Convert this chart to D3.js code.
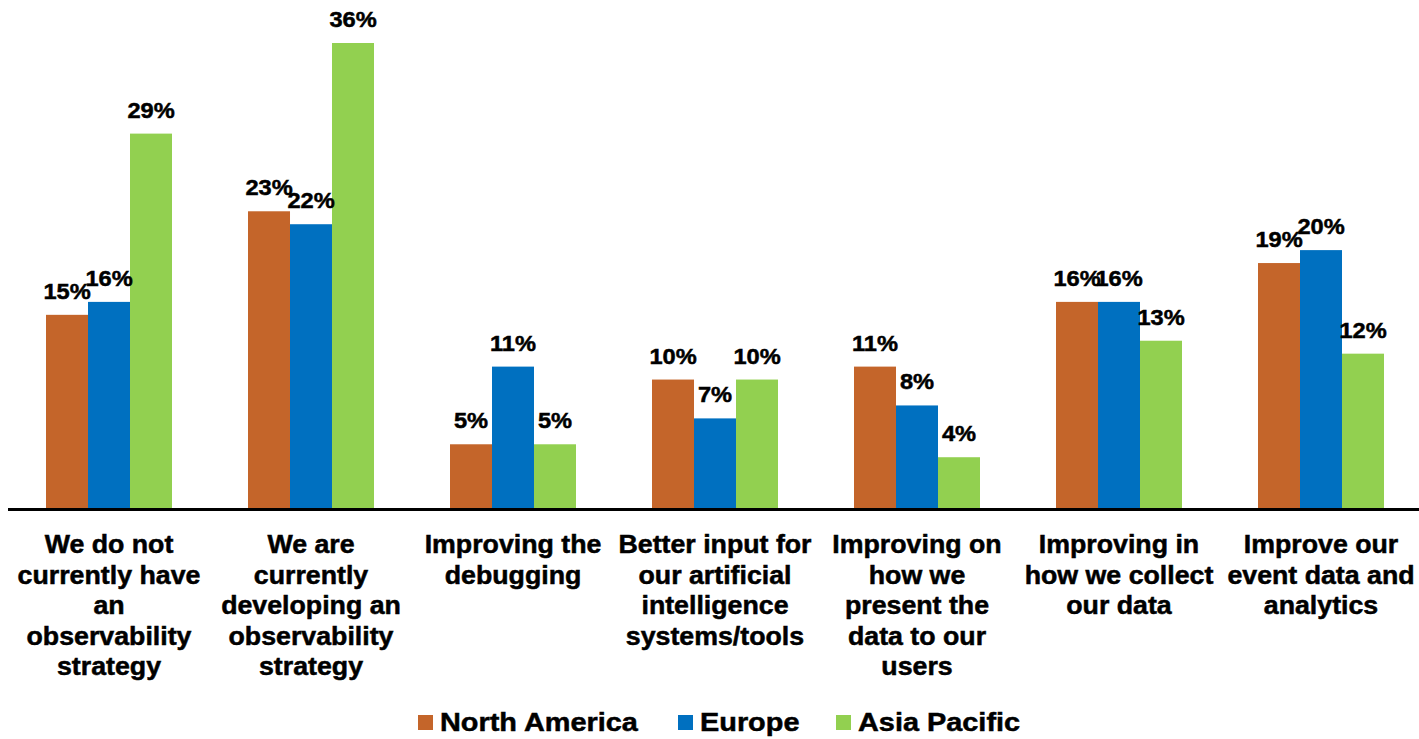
<!DOCTYPE html>
<html>
<head>
<meta charset="utf-8">
<script src="https://cdn.jsdelivr.net/npm/d3@7"></script>
<style>
html,body{margin:0;padding:0;background:#fff;}
svg{display:block;}
text{font-family:"Liberation Sans",Arial,sans-serif;font-weight:bold;fill:#000;stroke:#000;stroke-width:0.5px;}
</style>
</head>
<body>
<svg id="chart" width="1419" height="739"></svg>
<script>
const categories = [
  "We do not|currently have|an|observability|strategy",
  "We are|currently|developing an|observability|strategy",
  "Improving the|debugging",
  "Better input for|our artificial|intelligence|systems/tools",
  "Improving on|how we|present the|data to our|users",
  "Improving in|how we collect|our data",
  "Improve our|event data and|analytics"
];
const seriesNames = ["North America", "Europe", "Asia Pacific"];
const northAmerica = [15, 23, 5, 10, 11, 16, 19];
const europe = [16, 22, 11, 7, 8, 16, 20];
const asiaPacific = [29, 36, 5, 10, 4, 13, 12];
const colors = ["#C4652A", "#0070C0", "#92D050"];

const seriesValues = [northAmerica, europe, asiaPacific];
const svg = d3.select("#chart");

const baseY = 509;
const x0 = d3.scaleBand().domain(categories).range([8, 1422]).padding(0);
const x1 = d3.scaleBand().domain(seriesNames).range([0, x0.bandwidth()]).paddingInner(0).paddingOuter(0.905);
const y = d3.scaleLinear().domain([0, 36]).range([baseY, 43]);
const color = d3.scaleOrdinal().domain(seriesNames).range(colors);

const data = [];
categories.forEach((c, i) => {
  seriesNames.forEach((s, j) => {
    data.push({cat: c, series: s, value: seriesValues[j][i]});
  });
});

// bars
svg.append("g").selectAll("rect").data(data).join("rect")
  .attr("x", d => x0(d.cat) + x1(d.series))
  .attr("y", d => y(d.value))
  .attr("width", x1.bandwidth())
  .attr("height", d => y(0) - y(d.value))
  .attr("fill", d => color(d.series));

// value labels
svg.append("g").selectAll("text").data(data).join("text")
  .attr("transform", d => `translate(${x0(d.cat) + x1(d.series) + x1.bandwidth()/2},${y(d.value) - 16}) scale(1.05,1)`)
  .attr("text-anchor", "middle")
  .style("font-size", "22.5px")
  .text(d => d.value + "%");

// x axis
const xAxis = d3.axisBottom(x0).tickSize(0).tickFormat("");
const axisG = svg.append("g").attr("transform", `translate(0,${baseY})`).call(xAxis);
axisG.select(".domain").attr("d", "M8,0.5H1419").attr("stroke", "#000").attr("stroke-width", 3);

// category labels
const catG = svg.append("g");
categories.forEach(c => {
  const lines = c.split("|");
  const t = catG.append("text")
    .attr("transform", `translate(${x0(c) + x0.bandwidth()/2},553) scale(1.07,1)`)
    .attr("text-anchor", "middle")
    .style("font-size", "25px");
  lines.forEach((l, k) => {
    t.append("tspan").attr("x", 0).attr("y", k * 30.6).text(l);
  });
});

// legend
const legendX = [418, 678, 836];
const lg = svg.append("g");
seriesNames.forEach((s, j) => {
  lg.append("rect").attr("x", legendX[j]).attr("y", 715).attr("width", 15).attr("height", 15).attr("fill", color(s));
  lg.append("text").attr("transform", `translate(${legendX[j] + 22},731) scale(1.09,1)`).style("font-size", "26.5px").text(s);
});
</script>
</body>
</html>
